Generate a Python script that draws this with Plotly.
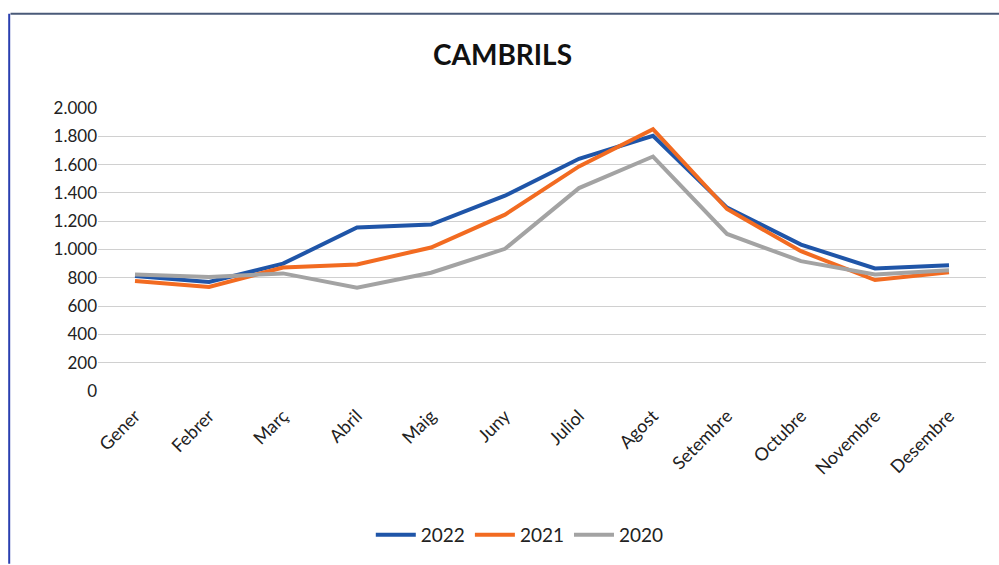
import plotly.graph_objects as go

months = ["Gener", "Febrer", "Març", "Abril", "Maig", "Juny", "Juliol",
          "Agost", "Setembre", "Octubre", "Novembre", "Desembre"]

values_2022 = [812, 770, 900, 1155, 1176, 1380, 1641, 1803, 1296, 1035, 866, 889]
values_2021 = [777, 735, 873, 894, 1014, 1246, 1587, 1850, 1286, 988, 784, 840]
values_2020 = [824, 805, 831, 730, 836, 1005, 1434, 1657, 1110, 918, 824, 854]

y_ticks = [0, 200, 400, 600, 800, 1000, 1200, 1400, 1600, 1800, 2000]

series = [
    ("2022", values_2022, "#1F55A8"),
    ("2021", values_2021, "#F26B21"),
    ("2020", values_2020, "#A3A3A3"),
]

font_family = "Lato, 'Open Sans', sans-serif"

fig = go.Figure()
for name, vals, color in series:
    fig.add_trace(go.Scatter(
        x=months, y=vals, name=name, mode="lines",
        line=dict(color=color, width=4),
    ))

fig.update_layout(
    width=999, height=565,
    margin=dict(l=98, r=13, t=108, b=173),
    paper_bgcolor="white", plot_bgcolor="white",
    separators=",.",
    title=dict(text="<b>CAMBRILS</b>", x=0.503, xanchor="center",
               y=0.903, yanchor="middle",
               font=dict(family=font_family, size=28, color="#111111")),
    font=dict(family=font_family, color="#222222"),
    showlegend=True,
    legend=dict(orientation="h", x=0.475, xanchor="center", y=-0.503,
                yanchor="middle", font=dict(size=19, color="#222222"),
                itemwidth=40, traceorder="normal"),
    xaxis=dict(showgrid=False, showline=False, ticks="", tickangle=-45,
               range=[-0.5, len(months) - 0.5], ticklabelstandoff=10,
               tickfont=dict(size=18, color="#222222")),
    yaxis=dict(range=[0, 2000], tickvals=y_ticks, tickformat=",d",
               showgrid=True, gridcolor="#d0d0d0", gridwidth=1,
               zeroline=False, showline=False, ticks="",
               tickfont=dict(size=17, color="#222222")),
)

# frame lines along the top and left edges
fig.add_shape(type="line", xref="paper", yref="paper",
              x0=-0.0985, x1=1.02, y0=1.333, y1=1.333,
              line=dict(color="#4a5a78", width=2))
fig.add_shape(type="line", xref="paper", yref="paper",
              x0=-0.1, x1=-0.1, y0=1.333, y1=-0.61,
              line=dict(color="#2a3fb0", width=2))

fig.write_html("out.html")
